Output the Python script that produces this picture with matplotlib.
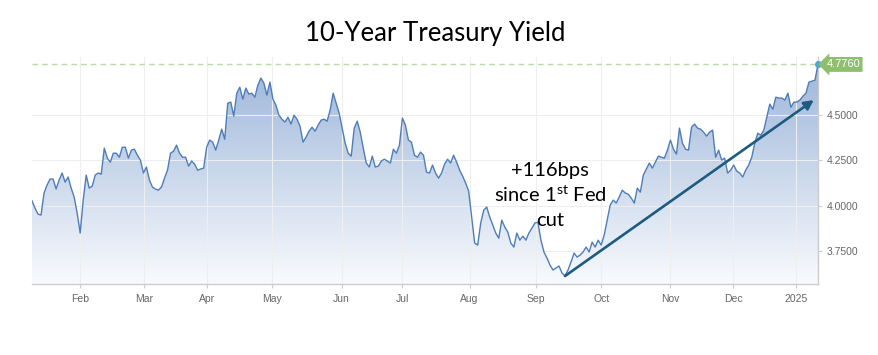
import numpy as np
import matplotlib
matplotlib.use("Agg")
import matplotlib.pyplot as plt
from matplotlib.colors import LinearSegmentedColormap

# 10-year yield, one value per session, Jan 9 2024 -> Jan 10 2025
yields = [
    4.026, 3.986, 3.953, 3.948, 4.069, 4.113, 4.146, 4.146, 4.091, 4.140,
    4.179, 4.129, 4.157, 4.096, 4.047, 3.959, 3.849, 4.030, 4.168, 4.096,
    4.107, 4.168, 4.179, 4.173, 4.316, 4.261, 4.239, 4.288, 4.288, 4.266,
    4.321, 4.321,
    4.261, 4.305, 4.310, 4.277, 4.250, 4.179, 4.212, 4.140, 4.102, 4.091,
    4.085, 4.102, 4.151, 4.195, 4.288, 4.299, 4.332, 4.288, 4.266, 4.266,
    4.217, 4.245, 4.228, 4.195, 4.201, 4.206, 4.321, 4.360, 4.349, 4.305,
    4.360, 4.420, 4.365,
    4.563, 4.569, 4.492, 4.618, 4.651, 4.585, 4.646, 4.613, 4.618, 4.596,
    4.662, 4.701, 4.673, 4.607, 4.679, 4.585, 4.552, 4.497, 4.475, 4.459,
    4.486, 4.448, 4.497, 4.475, 4.437, 4.349, 4.376, 4.409, 4.431, 4.409,
    4.442, 4.470,
    4.475, 4.464, 4.525, 4.618, 4.563, 4.508, 4.426, 4.343, 4.288, 4.272,
    4.426, 4.464, 4.404, 4.316, 4.234, 4.212, 4.272, 4.212, 4.217, 4.245,
    4.255, 4.245, 4.234, 4.310, 4.288, 4.332, 4.481, 4.442, 4.360, 4.349,
    4.277, 4.266, 4.294,
    4.277, 4.184, 4.179, 4.223, 4.179, 4.151, 4.179, 4.228, 4.255, 4.234,
    4.277, 4.239, 4.195, 4.162, 4.124, 4.080, 3.937, 3.794, 3.783, 3.904,
    3.975, 3.992, 3.937, 3.893, 3.849, 3.821, 3.920, 3.882, 3.854, 3.794,
    3.772,
    3.849, 3.810, 3.832, 3.810, 3.849, 3.876, 3.904, 3.909, 3.810, 3.745,
    3.712, 3.673, 3.646, 3.657, 3.668, 3.629, 3.613, 3.646, 3.690, 3.739,
    3.717, 3.728, 3.745, 3.772, 3.745, 3.799, 3.772, 3.810, 3.783, 3.838,
    3.920, 4.003,
    4.030, 4.014, 4.047, 4.085, 4.069, 4.063, 4.041, 4.014, 4.096, 4.074,
    4.168, 4.201, 4.234, 4.206, 4.239, 4.272, 4.266, 4.261, 4.305, 4.360,
    4.310, 4.283, 4.426, 4.343, 4.310, 4.305, 4.431, 4.448, 4.426, 4.420,
    4.404, 4.382, 4.404,
    4.415, 4.266, 4.305, 4.250, 4.261, 4.179, 4.195, 4.223, 4.190, 4.179,
    4.157, 4.195, 4.223, 4.266, 4.343, 4.398, 4.387, 4.415, 4.486, 4.558,
    4.530, 4.596, 4.591, 4.591, 4.580, 4.618, 4.541, 4.569, 4.569, 4.580,
    4.602, 4.618, 4.679, 4.684, 4.690, 4.776,
]
last_value = 4.776

month_labels = ["Feb", "Mar", "Apr", "May", "Jun", "Jul", "Aug", "Sep", "Oct", "Nov", "Dec", "2025"]
month_pos = [16.1, 37.1, 58.2, 79.7, 102.8, 123.0, 145.3, 167.4, 189.0, 212.0, 232.8, 253.6]
yticks = [3.75, 4.0, 4.25, 4.5]

# arrow: from the Sep low (first Fed cut) up to the latest levels
cut_idx = 177
arrow_end = (259.6, 4.58)

x = np.arange(len(yields))
y = np.array(yields)
ymin, ymax = 3.569, 4.816

fig = plt.figure(figsize=(8.79, 3.55), dpi=100)
ax = fig.add_axes([0.0364, 0.2, 0.8942, 0.639])

# gradient fill under the line
poly = ax.fill_between(x, y, ymin, color="none", lw=0)
cmap = LinearSegmentedColormap.from_list("fade", ["#f8fafd", "#9cb5d9"])
grad = np.linspace(0, 1, 256).reshape(-1, 1)
im = ax.imshow(grad, extent=[0, x[-1], ymin, 4.80], origin="lower", aspect="auto",
               cmap=cmap, zorder=1)
im.set_clip_path(poly.get_paths()[0], transform=ax.transData)

ax.plot(x, y, color="#4f7db8", lw=1.0, zorder=3)

ax.axhline(last_value, color="#b8dba8", ls=(0, (4, 3)), lw=1.0, zorder=2)
ax.plot([x[-1]], [last_value], "o", ms=4, color="#4aa6e0", zorder=5, clip_on=False)
ax.annotate(f"{last_value:.4f}", xy=(x[-1], last_value), xytext=(6, 0),
            textcoords="offset points", ha="left", va="center", color="white",
            fontsize=8, family="Liberation Sans", annotation_clip=False,
            bbox=dict(boxstyle="larrow,pad=0.22", fc="#8dbf6e", ec="none"), zorder=6)

ax.annotate("", xy=arrow_end, xytext=(cut_idx, yields[cut_idx]),
            arrowprops=dict(arrowstyle="-|>,head_length=0.55,head_width=0.28",
                            color="#1d5b80", lw=1.9, shrinkA=0, shrinkB=0), zorder=4)

txt_kw = dict(ha="center", va="center", fontsize=14.5, family="Lato", color="black", zorder=6)
ax.text(172, 4.195, "+116bps", **txt_kw)
ax.text(172, 4.058, "since 1$^{\\mathregular{st}}$ Fed", **txt_kw)
ax.text(172, 3.92, "cut", **txt_kw)

ax.set_xlim(0, x[-1])
ax.set_ylim(ymin, ymax)
ax.set_xticks(month_pos)
ax.set_xticklabels(month_labels)
ax.set_yticks(yticks)
ax.set_yticklabels([f"{v:.4f}" for v in yticks])
ax.yaxis.tick_right()
ax.tick_params(axis="both", colors="#cccccc", labelcolor="#666666", labelsize=7.5,
               length=3, width=0.8)
for lab in ax.get_xticklabels() + ax.get_yticklabels():
    lab.set_family("Liberation Sans")
ax.tick_params(axis="x", pad=4)
ax.tick_params(axis="y", pad=3)

ax.grid(True, color="#eeeeee", lw=0.8, zorder=0)
for side in ["top", "left"]:
    ax.spines[side].set_visible(False)
for side in ["bottom", "right"]:
    ax.spines[side].set_color("#cccccc")
    ax.spines[side].set_linewidth(1.0)

fig.text(0.495, 0.907, "10-Year Treasury Yield", ha="center", va="center",
         fontsize=18.5, family="Lato")

fig.savefig("out.png", dpi=100)
